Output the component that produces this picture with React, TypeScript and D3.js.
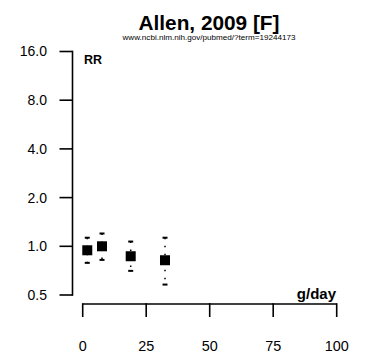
import React from 'react';
import * as d3 from 'd3';

const doses = [1.8, 7.6, 18.9, 32.4];
const rr = [0.945, 1.0, 0.868, 0.82];
const rrLow = [0.79, 0.824, 0.705, 0.58];
const rrHigh = [1.13, 1.2, 1.07, 1.13];
const yTicks = [0.5, 1, 2, 4, 8, 16];
const xTicks = [0, 25, 50, 75, 100];

const W = 373;
const H = 364;
const font = "'Liberation Sans', Arial, Helvetica, sans-serif";

export default function App() {
    const x = d3.scaleLinear().domain([0, 100]).range([82.7, 336.7]);
    const y = d3.scaleLog().base(2).domain([0.5, 16]).range([295, 51.5]);
    const axisX = 72.5;
    const axisY = 304;

    return (
        <svg width={W} height={H} viewBox={`0 0 ${W} ${H}`}
            style={{ position: 'absolute', left: 0, top: 0, background: 'white', fontFamily: font }}>
            {/* titles */}
            <text x={209} y={30} textAnchor="middle" fontSize={20.8} fontWeight="bold">Allen, 2009 [F]</text>
            <text x={209} y={40} textAnchor="middle" fontSize={8.1}>www.ncbi.nlm.nih.gov/pubmed/?term=19244173</text>

            {/* y axis */}
            <g stroke="black" strokeWidth={1.6} fill="none">
                <line x1={axisX} x2={axisX} y1={y(16)} y2={y(0.5)} strokeLinecap="square" />
                {yTicks.map(t => (
                    <line key={t} x1={axisX - 13} x2={axisX} y1={y(t)} y2={y(t)} />
                ))}
            </g>
            {yTicks.map(t => (
                <text key={t} x={47} y={y(t)} dy="0.35em" textAnchor="end" fontSize={14}>{t.toFixed(1)}</text>
            ))}
            <text x={84} y={63.5} fontSize={12.5} fontWeight="bold">RR</text>

            {/* x axis */}
            <g stroke="black" strokeWidth={1.6} fill="none">
                <line x1={x(0)} x2={x(100)} y1={axisY} y2={axisY} />
                {xTicks.map(t => (
                    <line key={t} x1={x(t)} x2={x(t)} y1={axisY - 0.8} y2={axisY + 13} />
                ))}
            </g>
            {xTicks.map(t => (
                <text key={t} x={x(t)} y={351} textAnchor="middle" fontSize={14.4}>{t}</text>
            ))}
            <text x={336} y={299} textAnchor="end" fontSize={15} fontWeight="bold">g/day</text>

            {/* confidence intervals */}
            {doses.map((d, i) => (
                <g key={i}>
                    <line x1={x(d)} x2={x(d)} y1={y(rrHigh[i])} y2={y(rrLow[i])}
                        stroke="black" strokeWidth={1.5} strokeDasharray="1.5,6.5" />
                    <line x1={x(d) - 2.5} x2={x(d) + 2.5} y1={y(rrHigh[i])} y2={y(rrHigh[i])} stroke="black" strokeWidth={2} />
                    <line x1={x(d) - 2.5} x2={x(d) + 2.5} y1={y(rrLow[i])} y2={y(rrLow[i])} stroke="black" strokeWidth={2} />
                </g>
            ))}

            {/* point estimates */}
            {doses.map((d, i) => (
                <rect key={i} x={x(d) - 5} y={y(rr[i]) - 5} width={10} height={10} fill="black" />
            ))}
        </svg>
    );
}
